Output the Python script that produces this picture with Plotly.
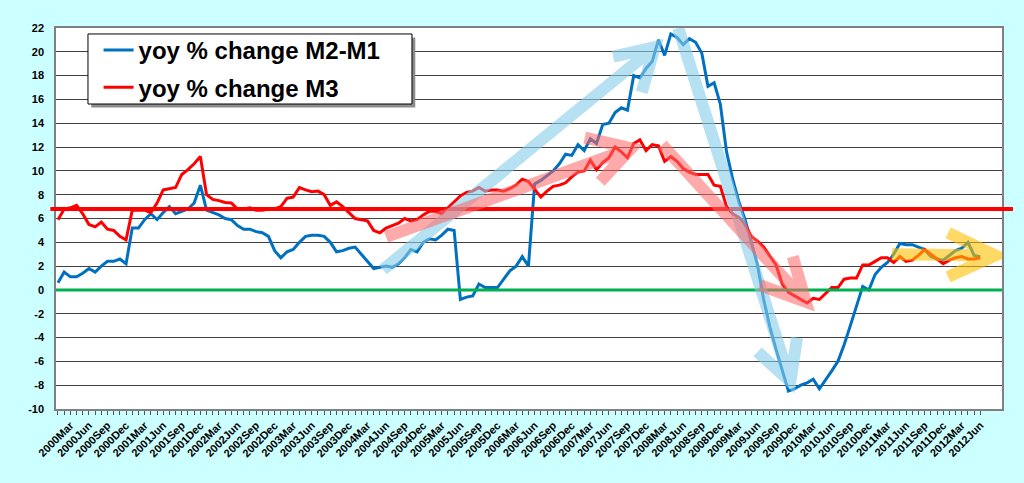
import plotly.graph_objects as go

# monthly categories 2000Jan .. 2012Jun
MON = ["Jan", "Feb", "Mar", "Apr", "May", "Jun", "Jul", "Aug", "Sep", "Oct", "Nov", "Dec"]
months = [f"{y}{m}" for y in range(2000, 2013) for m in MON][:150]
tick_labels = [m if m[4:] in ("Mar", "Jun", "Sep", "Dec") else "" for m in months]
y_ticks = list(range(-10, 23, 2))

# yoy % change M2-M1
m2_m1 = [
    0.6, 1.5, 1.1, 1.1, 1.4, 1.8, 1.5, 2.0, 2.4, 2.4, 2.6, 2.2,
    5.2, 5.2, 5.9, 6.4, 5.9, 6.5, 7.0, 6.4, 6.6, 6.8, 7.3, 8.8,
    6.7, 6.5, 6.3, 6.0, 5.9, 5.4, 5.1, 5.1, 4.9, 4.8, 4.5, 3.3,
    2.7, 3.2, 3.4, 4.0, 4.5, 4.6, 4.6, 4.5, 4.0, 3.2, 3.3, 3.5,
    3.6, 3.0, 2.4, 1.8, 1.9, 2.0, 1.9, 2.2, 2.7, 3.4, 3.2, 4.0,
    4.3, 4.2, 4.6, 5.1, 5.0, -0.8, -0.6, -0.5, 0.5, 0.2, 0.2, 0.2,
    0.9, 1.6, 2.0, 2.8, 2.0, 8.9, 9.2, 9.6, 10.0, 10.6, 11.4, 11.3,
    12.2, 11.7, 12.7, 12.3, 13.9, 14.0, 14.9, 15.3, 15.1, 18.0, 17.8, 18.6,
    19.2, 21.0, 19.7, 21.5, 21.2, 20.6, 21.1, 20.8, 19.9, 17.1, 17.4, 15.6,
    11.6, 9.3, 7.4, 5.9, 4.0, 2.1, -0.8, -3.1, -5.0, -6.8, -8.5, -8.3,
    -8.0, -7.8, -7.5, -8.3, -7.6, -6.8, -6.0, -4.6, -3.0, -1.3, 0.3, 0.0,
    1.3, 1.9, 2.3, 3.0, 3.9, 3.8, 3.8, 3.6, 3.4, 2.8, 2.6, 2.5,
    2.9, 3.3, 3.5, 4.0, 2.9, 2.8,
]

# yoy % change M3
m3 = [
    5.9, 6.8, 6.9, 7.1, 6.4, 5.5, 5.3, 5.7, 5.1, 5.0, 4.5, 4.2,
    6.7, 6.7, 6.7, 6.5, 7.3, 8.4, 8.5, 8.6, 9.7, 10.1, 10.6, 11.2,
    8.0, 7.6, 7.5, 7.35, 7.3, 6.8, 6.8, 6.9, 6.7, 6.7, 6.8, 6.8,
    7.0, 7.7, 7.8, 8.6, 8.4, 8.25, 8.3, 8.0, 7.1, 7.4, 7.0, 6.5,
    6.0, 5.9, 5.8, 5.0, 4.8, 5.2, 5.4, 5.6, 6.0, 5.8, 5.9, 6.3,
    6.6, 6.6, 6.4, 6.9, 7.4, 7.9, 8.2, 8.3, 8.6, 8.3, 8.4, 8.4,
    8.3, 8.5, 8.8, 9.3, 9.1, 8.4, 7.8, 8.3, 8.7, 8.8, 9.0, 9.5,
    9.9, 10.0, 10.9, 10.1, 10.7, 11.1, 12.0, 11.6, 11.1, 12.3, 12.6, 11.7,
    12.2, 12.1, 10.8, 11.2, 10.8, 10.2, 9.9, 9.7, 9.7, 9.7, 8.8, 8.7,
    7.0, 6.4, 6.1, 5.5, 4.5, 4.1, 3.6, 2.8, 2.1, 0.5, -0.2, -0.5,
    -0.8, -1.1, -0.7, -0.8, -0.3, 0.2, 0.2, 0.9, 1.0, 1.0, 2.1, 2.1,
    2.4, 2.7, 2.7, 2.3, 2.8, 2.4, 2.5, 2.9, 3.4, 3.0, 2.6, 2.2,
    2.5, 2.7, 2.8, 2.6, 2.6, 2.7,
]

ref_level = 6.8

# hand-drawn trend arrows: shaft start, tip, two head arms (month index, value)
trend_arrows = [
    ("#87CEEB", 0.6, [(52.5, 1.7), (96.4, 20.4), (89.7, 19.6), (94.3, 16.6)]),
    ("#87CEEB", 0.6, [(100.2, 22.0), (118.3, -7.7), (113.0, -5.2), (119.4, -4.0)]),
    ("#FF6666", 0.55, [(53.0, 4.45), (92.6, 11.9), (85.1, 12.8), (87.6, 9.1)]),
    ("#FF6666", 0.55, [(97.6, 12.2), (120.8, -1.0), (113.4, 0.4), (118.7, 2.8)]),
    ("#FFC000", 0.6, [(134.7, 3.0), (151.4, 2.9), (143.8, 4.8), (143.8, 1.1)]),
]

FONT = "Arial, Liberation Sans, sans-serif"

fig = go.Figure()
fig.add_trace(go.Scatter(x=months, y=m2_m1, mode="lines", name="yoy % change M2-M1",
                         legendgroup="a", line=dict(color="#0070C0", width=3)))
fig.add_trace(go.Scatter(x=months, y=m3, mode="lines", name="yoy % change M3",
                         legendgroup="b", line=dict(color="#FF0000", width=3)))

shapes = [
    dict(type="line", xref="paper", x0=0, x1=1, yref="y", y0=0, y1=0,
         line=dict(color="#00B050", width=3), layer="above"),
    dict(type="line", xref="paper", x0=-0.006, x1=1.0116, yref="y", y0=ref_level, y1=ref_level,
         line=dict(color="#FF0000", width=4), layer="above"),
]
for color, op, (s, t, p, q) in trend_arrows:
    path = (f"M {s[0]},{s[1]} L {t[0]},{t[1]} "
            f"M {p[0]},{p[1]} L {t[0]},{t[1]} L {q[0]},{q[1]}")
    shapes.append(dict(type="path", xref="x", yref="y", path=path, opacity=op,
                       line=dict(color=color, width=12), layer="above"))

# legend box with drop shadow
lx0, lx1, ly0, ly1 = 0.0338, 0.3763, 0.8005, 0.9843
shapes.append(dict(type="rect", xref="paper", yref="paper", x0=lx0 + 0.0035, x1=lx1 + 0.0035,
                   y0=ly0 - 0.009, y1=ly1 - 0.009, fillcolor="#8c8c8c",
                   line=dict(width=0), layer="above"))
shapes.append(dict(type="rect", xref="paper", yref="paper", x0=lx0, x1=lx1, y0=ly0, y1=ly1,
                   fillcolor="white", line=dict(color="black", width=1), layer="above"))

fig.update_layout(
    width=1024, height=483,
    margin=dict(l=56, r=22, t=28, b=74),
    paper_bgcolor="#CCFFFF",
    plot_bgcolor="white",
    font=dict(family=FONT, color="black"),
    shapes=shapes,
    showlegend=True,
    legend=dict(x=0.045, y=1.0, xanchor="left", yanchor="top",
                bgcolor="rgba(0,0,0,0)", borderwidth=0, tracegroupgap=3,
                font=dict(family=FONT, size=24, color="black", weight="bold")),
    xaxis=dict(
        type="category", range=[-0.32, 152.5], automargin=False,
        tickmode="array", tickvals=months, ticktext=tick_labels,
        tickangle=-45, ticks="outside", ticklen=4, tickcolor="#555555",
        tickfont=dict(family=FONT, size=11, color="black", weight="bold"),
        showgrid=False, showline=True, linecolor="#808080", linewidth=1.5, mirror=True,
    ),
    yaxis=dict(
        range=[-10, 22], automargin=False,
        tickmode="array", tickvals=y_ticks, ticktext=[str(v) for v in y_ticks],
        tickfont=dict(family=FONT, size=11, color="black", weight="bold"),
        ticklabelstandoff=8,
        showgrid=True, gridcolor="#404040", gridwidth=1, zeroline=False,
        showline=True, linecolor="#808080", linewidth=1.5, mirror=True,
    ),
)

fig.write_html("out.html", config={"displayModeBar": False},
               post_script="document.body.style.margin='0';")
